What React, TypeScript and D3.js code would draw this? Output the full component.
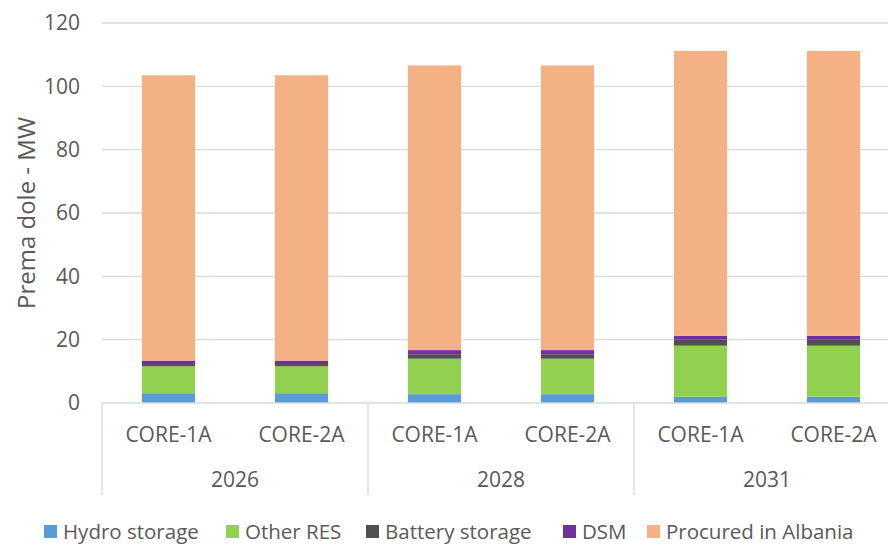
import React from "react";
import * as d3 from "d3";

// Chart values
const years = ["2026", "2028", "2031"];
const scenarios = ["CORE-1A", "CORE-2A"];
const seriesNames = ["Hydro storage", "Other RES", "Battery storage", "DSM", "Procured in Albania"];
const seriesColors = ["#5b9bd5", "#92d050", "#505050", "#7030a0", "#f4b183"];
const hydro = [3.1, 3.1, 2.8, 2.8, 2.0, 2.0];
const otherRes = [8.5, 8.5, 11.2, 11.2, 16.1, 16.1];
const battery = [0.7, 0.7, 1.4, 1.4, 1.9, 1.9];
const dsm = [1.1, 1.1, 1.3, 1.3, 1.2, 1.2];
const procured = [90.1, 90.1, 89.9, 89.9, 90.0, 90.0];
const yTicks = [0, 20, 40, 60, 80, 100, 120];

const width = 888;
const height = 544;
const left = 102;
const right = 900; // plot runs past the window edge in the original
const top = 23;
const bottom = 403;
const textColor = "#595959";
const gridColor = "#d9d9d9";
const font = "'Open Sans', sans-serif";

// one row per bar
const rows = years.flatMap((yr, i) =>
  scenarios.map((sc, j) => {
    const k = i * scenarios.length + j;
    return {
      key: yr + "|" + sc,
      year: yr,
      scenario: sc,
      "Hydro storage": hydro[k],
      "Other RES": otherRes[k],
      "Battery storage": battery[k],
      DSM: dsm[k],
      "Procured in Albania": procured[k],
    };
  })
);

export default function App() {
  const x = d3
    .scaleBand<string>()
    .domain(rows.map((r) => r.key))
    .range([left, right])
    .paddingInner(0.6)
    .paddingOuter(0.3);
  const y = d3.scaleLinear().domain([0, 120]).range([bottom, top]);
  const stacked = d3.stack<any>().keys(seriesNames)(rows);
  const step = x.step();
  const groupW = step * scenarios.length;

  // legend layout (x of each marker)
  const legendX = [44, 226, 366, 563, 647];

  return (
    <svg
      width={width}
      height={height}
      style={{ position: "absolute", left: 0, top: 0, display: "block", background: "#fff" }}
      fontFamily={font}
    >
      {/* gridlines + y labels */}
      {yTicks.map((t) => (
        <g key={t}>
          {t > 0 && <line x1={left} x2={right} y1={y(t)} y2={y(t)} stroke={gridColor} strokeWidth={1.3} />}
          <text x={80} y={y(t)} dy="0.35em" textAnchor="end" fontSize={21} fill={textColor}>
            {t}
          </text>
        </g>
      ))}

      {/* y axis title */}
      <text
        transform={`translate(27,${(top + bottom) / 2}) rotate(-90)`}
        textAnchor="middle"
        dy="0.35em"
        fontSize={24}
        fill={textColor}
      >
        Prema dole - MW
      </text>

      {/* stacked bars */}
      {stacked.map((s, si) => (
        <g key={s.key} fill={seriesColors[si]}>
          {s.map((d: any) => (
            <rect
              key={d.data.key}
              x={x(d.data.key)}
              width={x.bandwidth()}
              y={y(d[1])}
              height={y(d[0]) - y(d[1])}
            />
          ))}
        </g>
      ))}

      {/* category axis */}
      <line x1={left} x2={right} y1={bottom} y2={bottom} stroke={gridColor} strokeWidth={1.3} />
      {years.map((yr, i) => {
        const gx = left + i * groupW;
        return (
          <g key={yr}>
            <line x1={gx} x2={gx} y1={bottom} y2={495} stroke={gridColor} strokeWidth={1.3} />
            <text x={gx + groupW / 2} y={480} dy="0.35em" textAnchor="middle" fontSize={21} fill={textColor}>
              {yr}
            </text>
          </g>
        );
      })}
      <line x1={left + 3 * groupW} x2={left + 3 * groupW} y1={bottom} y2={495} stroke={gridColor} strokeWidth={1.3} />
      {rows.map((r) => (
        <text
          key={r.key}
          x={(x(r.key) as number) + x.bandwidth() / 2}
          y={435}
          dy="0.35em"
          textAnchor="middle"
          fontSize={21}
          fill={textColor}
        >
          {r.scenario}
        </text>
      ))}

      {/* legend */}
      {seriesNames.map((n, i) => (
        <g key={n} transform={`translate(${legendX[i]},525)`}>
          <rect width={13} height={13} fill={seriesColors[i]} />
          <text x={19} y={6.5} dy="0.35em" fontSize={20.5} fill={textColor}>
            {n}
          </text>
        </g>
      ))}
    </svg>
  );
}
